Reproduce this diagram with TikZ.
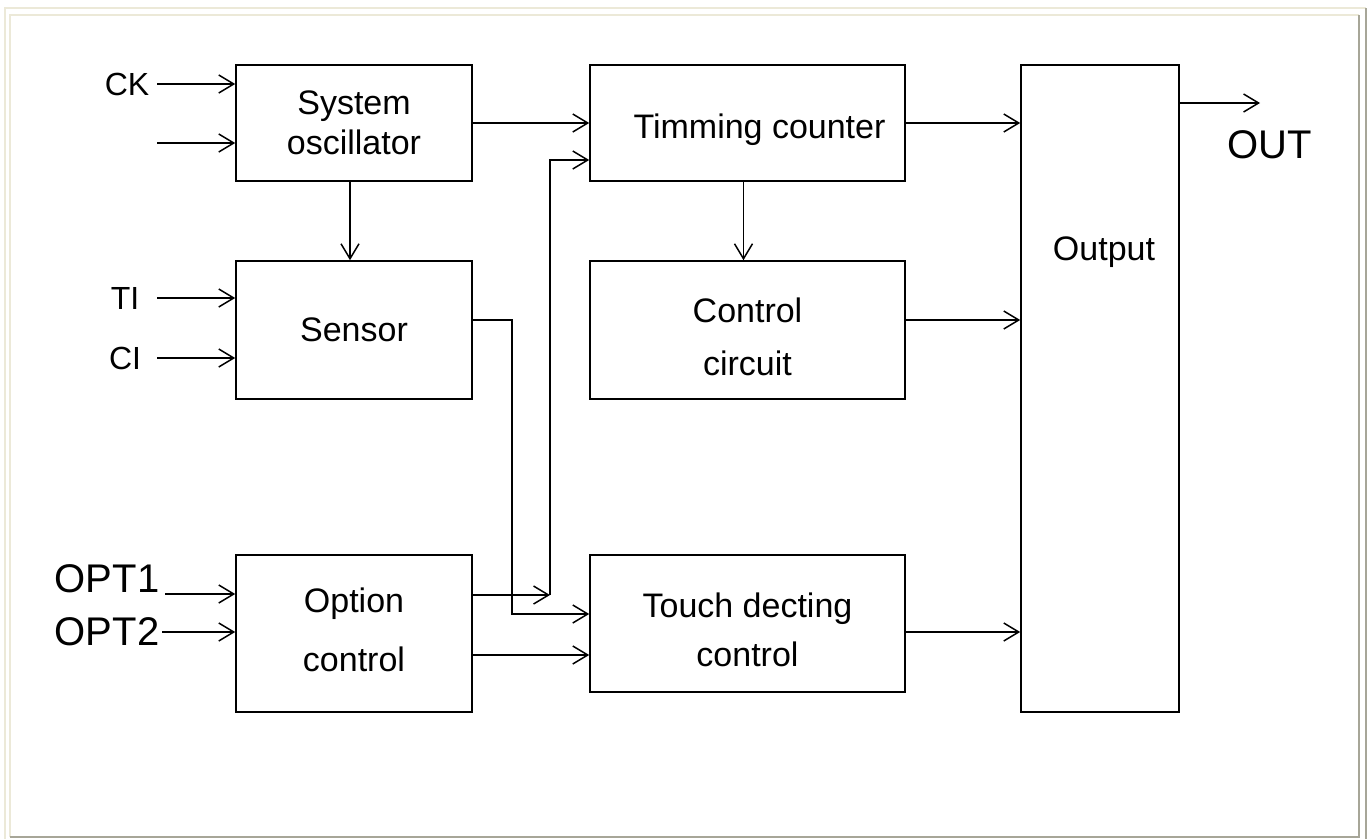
\documentclass[tikz,border=0pt]{standalone}
\usepackage{fontspec}
\setmainfont{Liberation Sans}
\usetikzlibrary{arrows.meta}
\definecolor{framelight}{HTML}{ECE9D8}
\definecolor{framedark}{HTML}{A7A698}
\begin{document}
\begin{tikzpicture}[x=1pt,y=-1pt,
  blk/.style={draw,line width=1.6pt,rectangle,inner sep=0pt,align=center},
  btxt/.style={inner sep=0pt,align=center},
  arr/.style={line width=1.5pt,-{Straight Barb[length=15pt,width=18pt,line width=1.5pt]}},
  lbl/.style={inner sep=0pt,font=\fontsize{32}{36}\selectfont},
  big/.style={inner sep=0pt,font=\fontsize{40}{44}\selectfont}
]
\useasboundingbox (0,0) rectangle (1370,839);
\fill[white] (0,0) rectangle (1370,839);
% frame
\draw[framelight,line width=2.5pt] (5,839) -- (5,8) -- (1366,8);
\draw[framedark,line width=2pt] (1366,8) -- (1366,839);
\draw[framelight,line width=1.2pt] (10,837) -- (10,15) -- (1359,15);
\draw[framedark,line width=1.5pt] (1359,15) -- (1359,837) -- (10,837);

% blocks
\node[blk,minimum width=236pt,minimum height=116pt,font=\fontsize{34}{40}\selectfont] (sysosc) at (354,123) {System\\oscillator};
\node[blk,minimum width=236pt,minimum height=138pt,font=\fontsize{34}{40}\selectfont] (sensor) at (354,330) {Sensor};
\node[blk,minimum width=236pt,minimum height=157pt,
  label={[btxt,yshift=4pt,font=\fontsize{34}{59}\selectfont]center:Option\\control}] (optctl) at (354,633.5) {};
\node[blk,minimum width=315pt,minimum height=116pt,
  label={[btxt,xshift=12pt,yshift=-7pt,font=\fontsize{34}{40}\selectfont]center:Timming counter}] (timing) at (747.5,123) {};
\node[blk,minimum width=315pt,minimum height=138pt,
  label={[btxt,yshift=-7pt,font=\fontsize{34}{53}\selectfont]center:Control\\circuit}] (ctrl) at (747.5,330) {};
\node[blk,minimum width=315pt,minimum height=137pt,
  label={[btxt,yshift=-6pt,font=\fontsize{34}{49}\selectfont]center:Touch decting\\control}] (touch) at (747.5,623.5) {};
\node[blk,minimum width=158pt,minimum height=647pt] (output) at (1100,388.5) {};
\node[inner sep=0pt,font=\fontsize{34}{40}\selectfont] (outtxt) at (1104,252) {Output};

% input labels and free ends
\node[lbl] (ckl) at (127,84) {CK};
\node[lbl] (til) at (125,298) {TI};
\node[lbl] (cil) at (125,358) {CI};
\node[big] (opt1l) at (107,579) {OPT1};
\node[big] (opt2l) at (107,632) {OPT2};
\coordinate (ck) at (157,84);
\coordinate (in2) at (157,143);
\coordinate (ti) at (157,298);
\coordinate (ci) at (157,358);
\coordinate (o1) at (165,594);
\coordinate (o2) at (162,632);
\draw[arr] (ck) -- (ck -| sysosc.west);
\draw[arr] (in2) -- (in2 -| sysosc.west);
\draw[arr] (ti) -- (ti -| sensor.west);
\draw[arr] (ci) -- (ci -| sensor.west);
\draw[arr] (o1) -- (o1 -| optctl.west);
\draw[arr] (o2) -- (o2 -| optctl.west);

% internal connectors
\draw[arr] ([xshift=-4pt]sysosc.south) -- ([xshift=-4pt]sensor.north);
\draw[arr] (sysosc.east) -- (timing.west);
\draw[arr] (timing.east) -- (timing.east -| output.west);
\draw[arr] ([xshift=-4pt]timing.south) -- ([xshift=-4pt]ctrl.north);
\draw[arr] ([yshift=10pt]ctrl.east) -- ([yshift=10pt]ctrl.east -| output.west);
\draw[arr] ([yshift=-8.5pt]touch.east) -- ([yshift=-8.5pt]touch.east -| output.west);

% sensor to touch
\coordinate (s1) at (512,320);
\coordinate (s2) at (512,614);
\draw[arr] ([yshift=10pt]sensor.east) -- (s1) -- (s2) -- (s2 -| touch.west);

% option control to timing counter
\coordinate (j1) at (550,595);
\coordinate (j2) at (550,160);
\draw[arr] (optctl.east |- j1) -- (j1);
\draw[arr] (j1) -- (j2) -- (j2 -| timing.west);

% option control to touch
\draw[arr] ([yshift=-21.5pt]optctl.east) -- ([yshift=-21.5pt]optctl.east -| touch.west);

% output
\coordinate (outend) at (1260,103);
\draw[arr] (output.east |- outend) -- (outend);
\node[big] (outl) at (1270,145) {OUT};
\end{tikzpicture}
\end{document}
